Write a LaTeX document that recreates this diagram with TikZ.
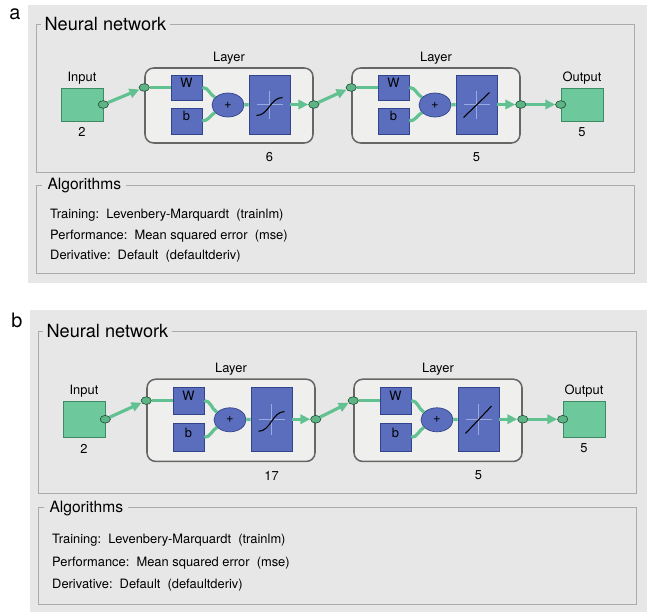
\documentclass[tikz,border=0pt]{standalone}
\usepackage{fontspec}
\setmainfont{TeX Gyre Heros}
\usetikzlibrary{positioning,fit}
\usetikzlibrary{arrows.meta}
\usetikzlibrary{shapes}

\definecolor{panelgray}{HTML}{E7E7E7}
\definecolor{framegray}{HTML}{ABABAB}
\definecolor{layerfill}{HTML}{EFEFEE}
\definecolor{layerdraw}{HTML}{666666}
\definecolor{nnblue}{HTML}{5B6EBD}
\definecolor{nnbluedark}{HTML}{34448C}
\definecolor{nngreen}{HTML}{6DC89B}
\definecolor{nngreendark}{HTML}{3D8A64}
\definecolor{wiregreen}{HTML}{62C190}
\definecolor{dotgreen}{HTML}{5DB585}
\definecolor{dotdark}{HTML}{204A35}
\definecolor{crossblue}{HTML}{9AAAE0}

\tikzset{
        smalltext/.style={font=\fontsize{11}{13}\selectfont, inner sep=1pt},
        % Panel, its letter and the group frames
        panel/.style={fill=panelgray},
        panellabel/.style={font=\fontsize{17}{20}\selectfont, inner sep=0pt},
        groupframe/.style={draw=framegray, line width=0.6pt},
        grouptitle/.style={anchor=west, fill=panelgray, inner ysep=1pt},
        algtext/.style={anchor=west, inner sep=0pt, font=\fontsize{11}{13}\selectfont},
        % Layer container
        layerbox/.style={draw=layerdraw, fill=layerfill, line width=1.3pt, rounded corners=2.6mm, inner sep=0pt},
        % Weight, bias, sum and transfer blocks
        bluebox/.style={smalltext, draw=nnbluedark, fill=nnblue, line width=0.5pt, inner sep=0pt},
        sumnode/.style={smalltext, ellipse, draw=nnbluedark, fill=nnblue, line width=0.6pt, minimum width=9.6mm, minimum height=7.2mm},
        % Input and output blocks
        iobox/.style={draw=nngreendark, fill=nngreen, line width=0.5pt, inner sep=0pt},
        portdot/.style={ellipse, draw=dotdark, fill=dotgreen, line width=0.5pt, minimum width=3.1mm, minimum height=2.3mm, inner sep=0pt},
        % Connections
        wire/.style={draw=wiregreen, line width=0.95mm},
        arrowwire/.style={wire, -{Triangle[length=3mm, width=2.8mm]}},
        crosshair/.style={draw=crossblue, line width=0.5pt},
        tfcurve/.style={draw=black, line width=0.9pt}
}

\begin{document}
\begin{tikzpicture}[x=0.3mm, y=-0.3mm]
        \useasboundingbox (0,0) rectangle (647,611);
        \foreach \p/\yunit/\yoff/\xoff/\hid in {a/0.3mm/0mm/0mm/6, b/0.3288mm/91.41mm/0.6mm/17}{
        \begin{scope}[xshift=\xoff, yshift=-\yoff, y=-\yunit]
            % panel, frames and training details
            \fill[panel] (28,5) rectangle (647,283);
            \node[panellabel] at (15,14) {\p};
            \draw[groupframe] (36,24) rectangle (634,172);
            \node[grouptitle, font=\fontsize{15.5}{18}\selectfont, inner xsep=1mm] at (41,24) {Neural network};
            \draw[groupframe] (36,185) rectangle (634,273);
            \node[grouptitle, font=\fontsize{13.3}{16}\selectfont, inner xsep=1.6mm] at (42,186) {Algorithms};
            \node[algtext] at (50,215) {Training:~~Levenbery-Marquardt~~(trainlm)};
            \node[algtext] at (50,236) {Performance:~~Mean squared error~~(mse)};
            \node[algtext] at (50,256) {Derivative:~~Default~~(defaultderiv)};

            % input
            \node[iobox, fit={(61,88) (103,121)}] (\p-in) {};
            \node[smalltext, above=0.5mm of \p-in] {Input};
            \node[smalltext, below=1.5mm of \p-in] {2};
            \node[portdot] (\p-indot) at (\p-in.east) {};

            % the two layers
            \foreach \ly/\dx/\cnt in {1/0mm/\hid, 2/62.1mm/5}{
            \begin{scope}[xshift=\dx]
                \node[layerbox, fit={(145,68) (313,143)}] (\p-l\ly) {};
                \node[smalltext, above=0.4mm of \p-l\ly] {Layer};
                \node[bluebox, fit={(171,75) (202,100)}] (\p-w\ly) {W};
                \node[bluebox, fit={(171,108) (202,134)}] (\p-b\ly) {b};
                \node[sumnode] (\p-sum\ly) at (228,105) {+};
                \node[bluebox, fit={(249,75) (290,134)}] (\p-tf\ly) {};
                \node[portdot] (\p-lin\ly) at (\p-l\ly.west |- \p-w\ly) {};
                \node[portdot] (\p-lout\ly) at (\p-l\ly.east |- \p-tf\ly) {};
                \node[smalltext, below=2.2mm] at (\p-l\ly.south -| \p-tf\ly) {\cnt};
                \draw[wire] (\p-lin\ly) -- (\p-w\ly);
                \draw[wire] (\p-w\ly.east) to[out=0, in=150] (\p-sum\ly);
                \draw[wire] (\p-b\ly.east) to[out=0, in=210] (\p-sum\ly);
                \draw[wire] (\p-sum\ly) -- (\p-tf\ly);
                \draw[arrowwire] (\p-tf\ly) -- (\p-lout\ly);
            \end{scope}
            }
            % tansig and purelin
            \draw[crosshair, shift={(\p-tf1.center)}] (-13,0) -- (13,0) (0,-14) -- (0,14);
            \draw[tfcurve, shift={(\p-tf1.center)}] (-13,11) .. controls (-1,11) and (1,-7) .. (13,-7);
            \draw[crosshair, shift={(\p-tf2.center)}] (-13,0) -- (13,0) (0,-14) -- (0,14);
            \draw[tfcurve, shift={(\p-tf2.center)}] (-13,13) -- (13,-12);

            % output
            \node[iobox, fit={(561,88) (603,121)}] (\p-out) {};
            \node[smalltext, above=0.5mm of \p-out] {Output};
            \node[smalltext, below=1.5mm of \p-out] {5};
            \node[portdot] (\p-outdot) at (\p-out.west) {};

            \draw[arrowwire] (\p-indot) -- (\p-lin1);
            \draw[arrowwire] (\p-lout1) -- (\p-lin2);
            \draw[arrowwire] (\p-lout2) -- (\p-outdot);
        \end{scope}
        }
\end{tikzpicture}
\end{document}
